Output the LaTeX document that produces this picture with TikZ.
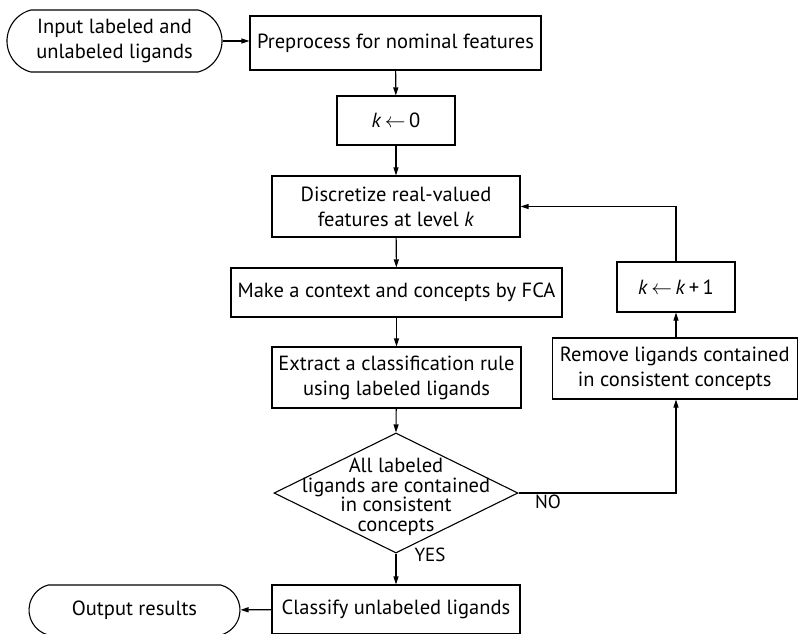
\documentclass[tikz,border=0pt]{standalone}
\usepackage{fontspec}
\setmainfont{PT Sans}
\usetikzlibrary{shapes.geometric,shapes.misc,arrows.meta}
\tikzset{
  base/.style={draw, line width=1.1pt, align=center, inner sep=0pt, font=\fontsize{20.5}{25}\selectfont},
  procbox/.style={base, rectangle},
  termbox/.style={base, rounded rectangle, rounded rectangle arc length=150},
  decbox/.style={base, diamond},
  arr/.style={line width=1.1pt, -{Triangle[length=8pt,width=5pt]}},
  lbl/.style={font=\fontsize{19}{22}\selectfont, inner sep=0pt}
}
\begin{document}
\begin{tikzpicture}[x=1pt,y=-1pt]
\path[use as bounding box, clip] (0,0) rectangle (798,633);
\node[termbox, minimum width=215pt, minimum height=62pt] (in) at (114.5,41) {Input labeled and\\unlabeled ligands};
\node[procbox, minimum width=291pt, minimum height=54pt] (pre) at (395.5,43) {Preprocess for nominal features};
\node[procbox, minimum width=118pt, minimum height=49pt] (k0) at (396,120.5) {\textit{k}\,$\leftarrow$\,0};
\node[procbox, minimum width=248pt, minimum height=61pt] (disc) at (396,206.5) {Discretize real-valued\\features at level \textit{k}};
\node[procbox, minimum width=331pt, minimum height=49pt] (make) at (396.5,292.5) {Make a context and concepts by FCA};
\node[procbox, minimum width=249pt, minimum height=61pt] (ext) at (396.5,377.5) {Extract a classification rule\\using labeled ligands};
\node[decbox, minimum width=244pt, minimum height=120pt] (dec) at (396,493) {};
\node[align=center, inner sep=0pt, font=\fontsize{20.5}{19.5}\selectfont] (dectext) at (396,497) {All labeled\\ligands are contained\\in consistent\\concepts};
\node[procbox, minimum width=118pt, minimum height=50pt] (kk) at (676,287) {\textit{k}\,$\leftarrow$\,\textit{k}\,+\,1};
\node[procbox, minimum width=245pt, minimum height=61pt] (rem) at (674.75,368.5) {Remove ligands contained\\in consistent concepts};
\node[procbox, minimum width=248pt, minimum height=49pt] (cls) at (396,609.5) {Classify unlabeled ligands};
\node[termbox, minimum width=211pt, minimum height=50pt] (out) at (134.5,610) {Output results};
\node[lbl] (yes) at (430,555) {YES};
\node[lbl] (no) at (548,502) {NO};

\draw[arr] (in.east) -- (in.east -| pre.west);
\draw[arr] (pre) -- (k0);
\draw[arr] (k0) -- (disc);
\draw[arr] (disc) -- (make);
\draw[arr] (make) -- (ext);
\draw[arr] (ext) -- (dec.north);
\draw[arr] (dec.south) -- (cls);
\draw[arr] (dec.east) -- (dec.east -| kk.south) -- (rem.south -| kk.south);
\draw[arr] (rem.north -| kk.south) -- (kk.south);
\draw[arr] (kk.north) |- (disc.east);
\draw[arr] (cls) -- (out);
\end{tikzpicture}
\end{document}
